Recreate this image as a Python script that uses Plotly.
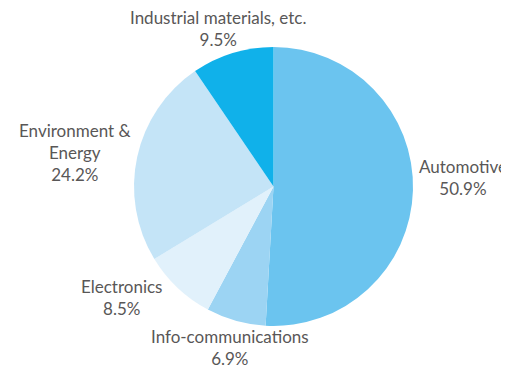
import plotly.graph_objects as go

labels = ["Automotive", "Info-communications", "Electronics", "Environment &<br>Energy", "Industrial materials, etc."]
values = [50.9, 6.9, 8.5, 24.2, 9.5]
colors = ["#6BC4EF", "#9CD4F3", "#E1F1FB", "#C4E4F7", "#10B1EA"]

# label anchor positions (paper coords) - layout only
label_pos = [(0.9082, 0.5304), (0.4431, 0.0635), (0.2275, 0.1989), (0.1337, 0.6022), (0.4192, 0.9420)]

fig = go.Figure(go.Pie(
    labels=labels,
    values=values,
    sort=False,
    direction="clockwise",
    rotation=0,
    marker=dict(colors=colors, line=dict(width=0)),
    textinfo="none",
    hoverinfo="label+value",
    showlegend=False,
    domain=dict(x=[0.2515, 0.8084], y=[0.1215, 0.8923]),
    automargin=False,
))

for lab, val, (px, py) in zip(labels, values, label_pos):
    fig.add_annotation(
        x=px, y=py, xref="paper", yref="paper",
        xanchor="center", yanchor="middle",
        text=f"{lab}<br>{val:.1f}%",
        showarrow=False,
        align="center",
        font=dict(family="Lato", size=17, color="#595757"),
    )

fig.update_layout(
    width=501, height=362,
    margin=dict(l=0, r=0, t=0, b=0),
    paper_bgcolor="white",
    plot_bgcolor="white",
)
fig.write_html("out.html")
